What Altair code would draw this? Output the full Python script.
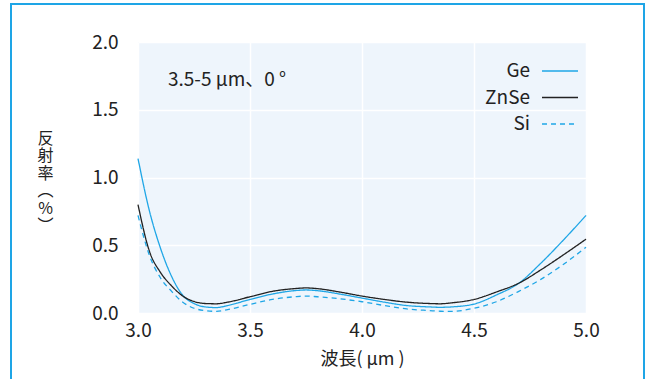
import altair as alt
import pandas as pd

# Wavelength sample points (µm)
wavelength = [3.0, 3.05, 3.1, 3.15, 3.2, 3.25, 3.3, 3.35, 3.4, 3.5, 3.6, 3.7, 3.75,
              3.8, 3.9, 4.0, 4.1, 4.2, 4.3, 4.35, 4.4, 4.5, 4.6, 4.7, 4.8, 4.9, 5.0]

# Reflectance (%)
ge = [1.14, 0.76, 0.48, 0.27, 0.13, 0.07, 0.045, 0.04, 0.055, 0.10, 0.14, 0.165, 0.17,
      0.165, 0.14, 0.11, 0.08, 0.055, 0.045, 0.042, 0.045, 0.066, 0.133, 0.22, 0.37, 0.54, 0.72]
znse = [0.80, 0.46, 0.30, 0.20, 0.125, 0.085, 0.07, 0.068, 0.08, 0.12, 0.16, 0.18, 0.185,
        0.18, 0.155, 0.125, 0.10, 0.08, 0.07, 0.068, 0.075, 0.10, 0.155, 0.22, 0.32, 0.43, 0.545]
si = [0.72, 0.43, 0.26, 0.16, 0.08, 0.035, 0.018, 0.012, 0.025, 0.064, 0.10, 0.12, 0.125,
      0.12, 0.105, 0.083, 0.055, 0.03, 0.018, 0.013, 0.012, 0.035, 0.083, 0.16, 0.25, 0.36, 0.485]

series_names = ["Ge", "ZnSe", "Si"]
series_colors = ["#1fa6e6", "#222222", "#1fa6e6"]
series_dash = [[1, 0], [1, 0], [5, 4]]

x_ticks = [3.0, 3.5, 4.0, 4.5, 5.0]
y_ticks = [0.0, 0.5, 1.0, 1.5, 2.0]
annotation = "3.5-5 µm、0 °"
x_title = "波長( µm )"
y_title = ["反", "射", "率", "︵", "%", "︶"]

rows = []
for name, vals in zip(series_names, [ge, znse, si]):
    for w, v in zip(wavelength, vals):
        rows.append({"wavelength": w, "reflectance": v, "material": name})
df = pd.DataFrame(rows)
legend_df = pd.DataFrame({"material": series_names})

FONT = "Noto Sans CJK JP"

color_enc = alt.Color("material:N",
                      scale=alt.Scale(domain=series_names, range=series_colors),
                      legend=None)
dash_enc = alt.StrokeDash("material:N",
                          scale=alt.Scale(domain=series_names, range=series_dash),
                          legend=None)

lines = alt.Chart(df).mark_line(interpolate="monotone", strokeWidth=1.3).encode(
    x=alt.X("wavelength:Q",
            scale=alt.Scale(domain=[3.0, 5.0], nice=False, zero=False),
            axis=alt.Axis(values=x_ticks, format=".1f", title=x_title,
                          titleY=46, titleBaseline="middle", titleFontSize=18,
                          titleFontWeight="normal", labelPadding=8, labelFlush=False)),
    y=alt.Y("reflectance:Q",
            scale=alt.Scale(domain=[0, 2.0], nice=False),
            axis=alt.Axis(values=y_ticks, format=".1f", title=y_title,
                          titleAngle=0, titleX=-93, titleY=88, titleAlign="center",
                          titleBaseline="top", titleFontSize=16, titleFontWeight="normal",
                          titleLineHeight=17.5, labelPadding=20, labelFlush=False)),
    color=color_enc,
    strokeDash=dash_enc,
)

leg_y = alt.Y("material:N", sort=series_names,
              scale=alt.Scale(type="point", domain=series_names, range=[29, 82], padding=0),
              axis=None)

leg_lines = alt.Chart(legend_df).mark_rule(strokeWidth=1.3).encode(
    x=alt.value(404), x2=alt.value(440), y=leg_y, color=color_enc, strokeDash=dash_enc
)
leg_text = alt.Chart(legend_df).mark_text(
    align="right", baseline="middle", fontSize=19, font=FONT, color="#222"
).encode(x=alt.value(392), y=leg_y, text="material:N")
legend = alt.layer(leg_lines, leg_text)

note = alt.Chart(pd.DataFrame({"t": [annotation]})).mark_text(
    align="left", baseline="middle", fontSize=19, font=FONT, color="#222"
).encode(text="t:N", x=alt.value(30), y=alt.value(38))

frame = alt.Chart(pd.DataFrame({"a": [0]})).mark_rect(
    fill=None, stroke="#1ea5e6", strokeWidth=2
).encode(x=alt.value(-127), x2=alt.value(506), y=alt.value(-38), y2=alt.value(360))

chart = alt.layer(frame, lines, note, legend).resolve_scale(
    y="independent"
).properties(
    width=448, height=271,
    padding={"left": 138, "top": 42, "right": 65, "bottom": 66},
    autosize=alt.AutoSizeParams(type="none"),
    background="#ffffff",
).configure_view(
    fill="#eef5fc", stroke=None
).configure_axis(
    grid=True, gridColor="#ffffff", gridWidth=1.5, domain=False, ticks=False,
    labelFont=FONT, titleFont=FONT, labelFontSize=19, labelColor="#222",
    titleColor="#222"
)

chart.save("out.html", embed_options={"renderer": "svg", "actions": False})
